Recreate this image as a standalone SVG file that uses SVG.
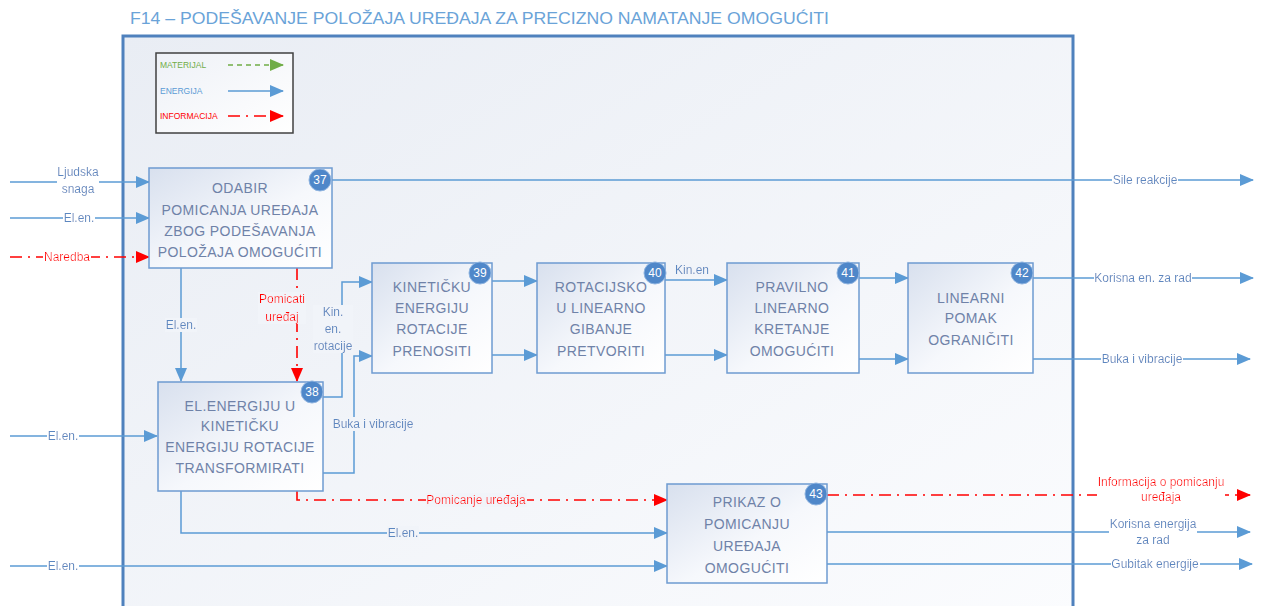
<svg xmlns="http://www.w3.org/2000/svg" width="1263" height="606" viewBox="0 0 1263 606">
<style>
.title{font-family:"Liberation Sans",Arial,sans-serif;font-size:17px;fill:#6aa3d8}
.box{fill:url(#nodeG);stroke:#6e9bd1;stroke-width:1.5}
.nt{font-family:"Liberation Sans",Arial,sans-serif;font-size:14px;fill:#6f82a8;text-anchor:middle;letter-spacing:0.4px}
.bd{fill:#4f87c9;stroke:#8fb4e0;stroke-width:1}
.bt{font-family:"Liberation Sans",Arial,sans-serif;font-size:12px;fill:#ffffff;text-anchor:middle}
.e{fill:none;stroke:#5b9bd5;stroke-width:1.5}
.i{fill:none;stroke:#ff0000;stroke-width:1.6;stroke-dasharray:12 6 2 6}
.lb{font-family:"Liberation Sans",Arial,sans-serif;font-size:12px;fill:#5b87c0;text-anchor:middle}
.lr{font-family:"Liberation Sans",Arial,sans-serif;font-size:12px;fill:#ff0000;text-anchor:middle}
.hw{filter:url(#bgw)}
.hi{filter:url(#bgi)}
.lg{font-family:"Liberation Sans",Arial,sans-serif;font-size:8.5px}
</style>
<defs>
<filter id="bgw" x="0" y="0" width="1" height="1"><feFlood flood-color="#ffffff"/><feComposite in="SourceGraphic"/></filter>
<filter id="bgi" x="0" y="0" width="1" height="1"><feFlood flood-color="#f1f4f9"/><feComposite in="SourceGraphic"/></filter>
<linearGradient id="frameG" x1="0" y1="0" x2="1" y2="1">
<stop offset="0" stop-color="#e9edf4"/><stop offset="1" stop-color="#fbfcfe"/>
</linearGradient>
<linearGradient id="nodeG" x1="0" y1="0" x2="1" y2="1">
<stop offset="0" stop-color="#d8e0ee"/><stop offset="0.55" stop-color="#f6f8fc"/><stop offset="1" stop-color="#ffffff"/>
</linearGradient>
<linearGradient id="legG" x1="0" y1="0" x2="1" y2="1">
<stop offset="0" stop-color="#eef1f7"/><stop offset="1" stop-color="#ffffff"/>
</linearGradient>
<marker id="ab" markerWidth="14" markerHeight="12" refX="13" refY="6" orient="auto" markerUnits="userSpaceOnUse"><path d="M0,0 L14,6 L0,12 z" fill="#5b9bd5"/></marker>
<marker id="ar" markerWidth="14" markerHeight="12" refX="13" refY="6" orient="auto" markerUnits="userSpaceOnUse"><path d="M0,0 L14,6 L0,12 z" fill="#ff0000"/></marker>
<marker id="ag" markerWidth="14" markerHeight="12" refX="13" refY="6" orient="auto" markerUnits="userSpaceOnUse"><path d="M0,0 L14,6 L0,12 z" fill="#70ad47"/></marker>
</defs>
<rect x="0" y="0" width="1263" height="606" fill="#ffffff"/>
<text class="title" x="130" y="24" textLength="699" lengthAdjust="spacingAndGlyphs">F14 – PODEŠAVANJE POLOŽAJA UREĐAJA ZA PRECIZNO NAMATANJE OMOGUĆITI</text>
<rect x="123" y="36" width="950" height="590" fill="url(#frameG)" stroke="#4f81bd" stroke-width="3"/>

<g id="legend">
<rect x="156" y="53" width="137" height="80" fill="url(#legG)" stroke="#404040" stroke-width="1.5"/>
<text class="lg" x="160" y="68" fill="#70ad47">MATERIJAL</text>
<path d="M228,65 H283" fill="none" stroke="#70ad47" stroke-width="1.5" stroke-dasharray="5 4" marker-end="url(#ag)"/>
<text class="lg" x="160" y="94" fill="#5b9bd5">ENERGIJA</text>
<path d="M228,91 H283" class="e" marker-end="url(#ab)"/>
<text class="lg" x="160" y="119" fill="#ff0000">INFORMACIJA</text>
<path d="M228,116 H283" class="i" marker-end="url(#ar)"/>
</g>

<g id="connectors">
<path class="e" d="M10,182 H149" marker-end="url(#ab)"/>
<path class="e" d="M10,218 H149" marker-end="url(#ab)"/>
<path class="i" d="M10,257 H149" marker-end="url(#ar)"/>
<path class="e" d="M331,180 H1253" marker-end="url(#ab)"/>
<path class="e" d="M181,268 V381" marker-end="url(#ab)"/>
<path class="i" d="M297,268 V381" marker-end="url(#ar)"/>
<path class="e" d="M10,436 H157" marker-end="url(#ab)"/>
<path class="e" d="M323,397 H342 V282 H372" marker-end="url(#ab)"/>
<path class="e" d="M323,473 H354 V356 H372" marker-end="url(#ab)"/>
<path class="e" d="M492,281 H537" marker-end="url(#ab)"/>
<path class="e" d="M492,355 H537" marker-end="url(#ab)"/>
<path class="e" d="M665,280 H727" marker-end="url(#ab)"/>
<path class="e" d="M665,355 H727" marker-end="url(#ab)"/>
<path class="e" d="M859,278 H908" marker-end="url(#ab)"/>
<path class="e" d="M859,359 H908" marker-end="url(#ab)"/>
<path class="e" d="M1033,278 H1253" marker-end="url(#ab)"/>
<path class="e" d="M1033,359 H1250" marker-end="url(#ab)"/>
<path class="i" d="M297,491 V500 H667" marker-end="url(#ar)"/>
<path class="e" d="M181,491 V533 H667" marker-end="url(#ab)"/>
<path class="e" d="M10,566 H667" marker-end="url(#ab)"/>
<path class="i" d="M827,495 H1250" marker-end="url(#ar)"/>
<path class="e" d="M827,532 H1250" marker-end="url(#ab)"/>
<path class="e" d="M827,564 H1252" marker-end="url(#ab)"/>

<text class="lb hw" x="78" y="176">Ljudska<tspan x="78" y="193">snaga</tspan></text>
<text class="lb hw" x="79" y="222">El.en.</text>
<text class="lr hw" x="67" y="261">Naredba</text>
<text class="lb hw" x="1145" y="184">Sile reakcije</text>
<text class="lb hi" x="181" y="329">El.en.</text>
<text class="lr hi" x="282" y="303">Pomicati<tspan x="282" y="321">uređaj</tspan></text>
<text class="lb hw" x="63" y="440">El.en.</text>
<text class="lb hi" x="333" y="316">Kin.<tspan x="333" y="333">en.</tspan><tspan x="333" y="350">rotacije</tspan></text>
<text class="lb hi" x="373" y="428">Buka i vibracije</text>
<text class="lb hi" x="692" y="274">Kin.en</text>
<text class="lb hw" x="1143" y="282">Korisna en. za rad</text>
<text class="lb hw" x="1142" y="363">Buka i vibracije</text>
<text class="lr hi" x="476" y="504">Pomicanje uređaja</text>
<text class="lb hi" x="403" y="537">El.en.</text>
<text class="lb hw" x="63" y="570">El.en.</text>
<text class="lr hw" x="1161" y="486">Informacija o pomicanju<tspan x="1161" y="501">uređaja</tspan></text>
<text class="lb hw" x="1153" y="528">Korisna energija<tspan x="1153" y="544">za rad</tspan></text>
<text class="lb hw" x="1155" y="568">Gubitak energije</text>
</g>

<g id="n37">
<rect class="box" x="149" y="168" width="183" height="100"/>
<text class="nt" x="240" y="193">ODABIR</text>
<text class="nt" x="240" y="215">POMICANJA UREĐAJA</text>
<text class="nt" x="240" y="236">ZBOG PODEŠAVANJA</text>
<text class="nt" x="240" y="257">POLOŽAJA OMOGUĆITI</text>
<circle class="bd" cx="320" cy="180" r="11"/><text class="bt" x="320" y="184">37</text>
</g>
<g id="n38">
<rect class="box" x="158" y="382" width="165" height="109"/>
<text class="nt" x="240" y="411">EL.ENERGIJU U</text>
<text class="nt" x="240" y="431">KINETIČKU</text>
<text class="nt" x="240" y="452">ENERGIJU ROTACIJE</text>
<text class="nt" x="240" y="473">TRANSFORMIRATI</text>
<circle class="bd" cx="312" cy="392" r="11"/><text class="bt" x="312" y="396">38</text>
</g>
<g id="n39">
<rect class="box" x="372" y="263" width="120" height="110"/>
<text class="nt" x="432" y="292">KINETIČKU</text>
<text class="nt" x="432" y="313">ENERGIJU</text>
<text class="nt" x="432" y="334">ROTACIJE</text>
<text class="nt" x="432" y="356">PRENOSITI</text>
<circle class="bd" cx="480" cy="273" r="11"/><text class="bt" x="480" y="277">39</text>
</g>
<g id="n40">
<rect class="box" x="537" y="263" width="128" height="110"/>
<text class="nt" x="601" y="292">ROTACIJSKO</text>
<text class="nt" x="601" y="313">U LINEARNO</text>
<text class="nt" x="601" y="334">GIBANJE</text>
<text class="nt" x="601" y="356">PRETVORITI</text>
<circle class="bd" cx="655" cy="273" r="11"/><text class="bt" x="655" y="277">40</text>
</g>
<g id="n41">
<rect class="box" x="727" y="263" width="132" height="110"/>
<text class="nt" x="792" y="292">PRAVILNO</text>
<text class="nt" x="792" y="313">LINEARNO</text>
<text class="nt" x="792" y="334">KRETANJE</text>
<text class="nt" x="792" y="356">OMOGUĆITI</text>
<circle class="bd" cx="848" cy="273" r="11"/><text class="bt" x="848" y="277">41</text>
</g>
<g id="n42">
<rect class="box" x="908" y="263" width="125" height="110"/>
<text class="nt" x="971" y="303">LINEARNI</text>
<text class="nt" x="971" y="323">POMAK</text>
<text class="nt" x="971" y="345">OGRANIČITI</text>
<circle class="bd" cx="1022" cy="273" r="11"/><text class="bt" x="1022" y="277">42</text>
</g>
<g id="n43">
<rect class="box" x="667" y="484" width="160" height="99"/>
<text class="nt" x="747" y="507">PRIKAZ O</text>
<text class="nt" x="747" y="529">POMICANJU</text>
<text class="nt" x="747" y="551">UREĐAJA</text>
<text class="nt" x="747" y="573">OMOGUĆITI</text>
<circle class="bd" cx="816" cy="494" r="11"/><text class="bt" x="816" y="498">43</text>
</g>
</svg>
